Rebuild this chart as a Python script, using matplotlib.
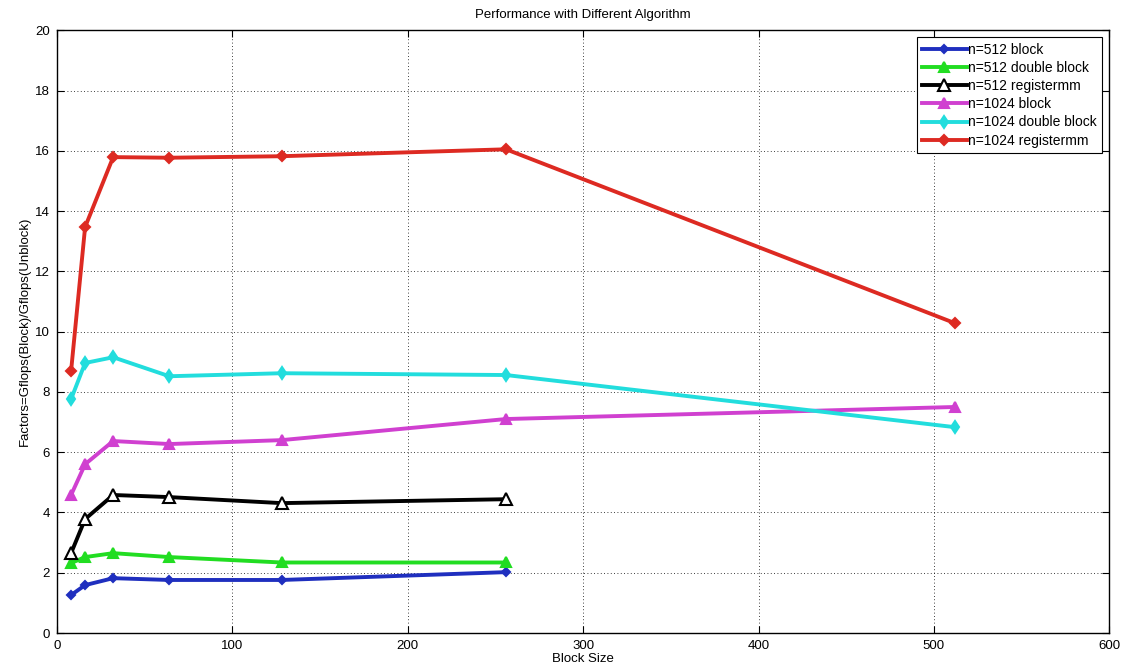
import matplotlib
matplotlib.use("Agg")
import matplotlib.pyplot as plt

block_sizes = [8, 16, 32, 64, 128, 256, 512]
n512_block = [1.26, 1.59, 1.82, 1.76, 1.76, 2.02]
n512_double = [2.32, 2.52, 2.65, 2.52, 2.34, 2.34]
n512_reg = [2.65, 3.78, 4.58, 4.51, 4.31, 4.44]
n1024_block = [4.58, 5.60, 6.37, 6.27, 6.40, 7.10, 7.50]
n1024_double = [7.76, 8.96, 9.15, 8.52, 8.62, 8.56, 6.83]
n1024_reg = [8.69, 13.47, 15.79, 15.77, 15.82, 16.05, 10.28]
labels = ["n=512 block", "n=512 double block", "n=512 registermm",
          "n=1024 block", "n=1024 double block", "n=1024 registermm"]

plt.rcParams['font.family'] = ['Liberation Sans Narrow', 'Liberation Sans', 'DejaVu Sans']

fig = plt.figure(figsize=(11.23, 6.72), dpi=100)
ax = fig.add_axes([0.0508, 0.058, 0.937, 0.897])

series = [
    (n512_block, '#1f2fbf', 'D', '#1f2fbf', 4),
    (n512_double, '#22dd22', '^', '#22dd22', 7),
    (n512_reg, '#000000', '^', 'white', 8),
    (n1024_block, '#d040d0', '^', '#d040d0', 7),
    (n1024_double, '#22dddd', 'd', '#22dddd', 6),
    (n1024_reg, '#dd2a22', 'D', '#dd2a22', 5),
]
for (vals, col, mk, fc, ms), lab in zip(series, labels):
    ax.plot(block_sizes[:len(vals)], vals, color=col, lw=2.8, marker=mk,
            markerfacecolor=fc, markeredgecolor=col, markersize=ms,
            markeredgewidth=1.5, label=lab)

ax.set_xlim(0, 600)
ax.set_ylim(0, 20)
ax.set_xticks(range(0, 601, 100))
ax.set_yticks(range(0, 21, 2))
ax.grid(True, color='black', linestyle=(0, (1, 3)), linewidth=0.6)
ax.tick_params(direction='in', labelsize=9.5, top=True, right=True, length=5, pad=5)
ax.set_xlabel("Block Size", fontsize=9.5, labelpad=1)
ax.set_ylabel("Factors=Gflops(Block)/Gflops(Unblock)", fontsize=9.5, labelpad=3)
ax.set_title("Performance with Different Algorithm", fontsize=9.5, pad=9)
leg = ax.legend(loc='upper right', fontsize=10, frameon=True, fancybox=False,
                edgecolor='black', framealpha=1, handlelength=3.2,
                borderaxespad=0.5, labelspacing=0.3, handletextpad=0.1,
                borderpad=0.4)
leg.get_frame().set_linewidth(0.8)
for s in ax.spines.values():
    s.set_linewidth(1.0)

fig.savefig("out.png", dpi=100)
